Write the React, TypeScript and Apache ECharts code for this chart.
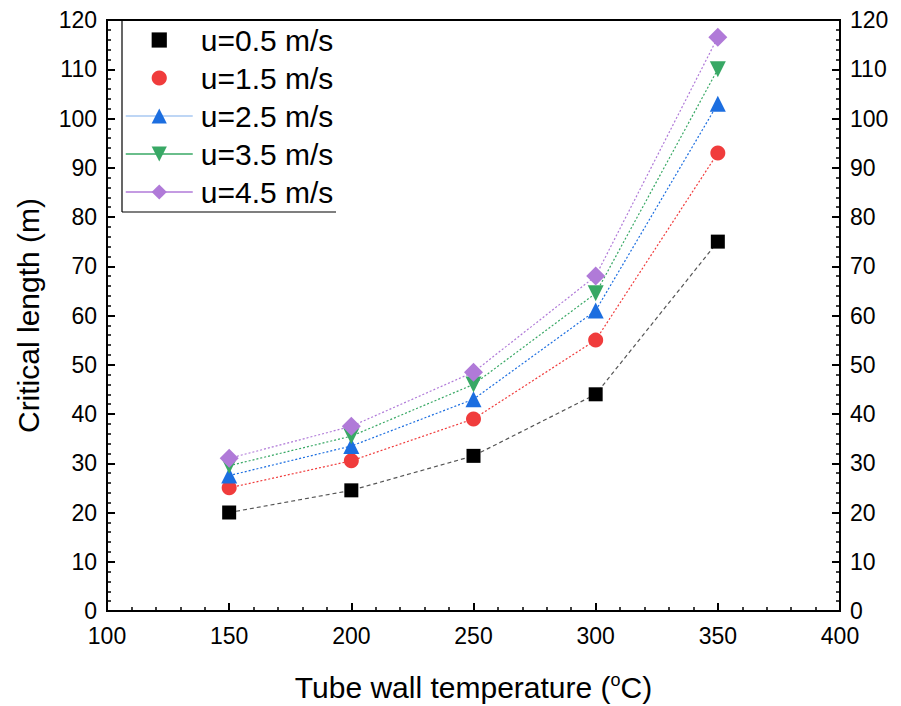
import React, { useEffect, useRef } from "react";
import * as echarts from "echarts";

const temps = [150, 200, 250, 300, 350];
const u05 = [20, 24.5, 31.5, 44, 75];
const u15 = [25, 30.5, 39, 55, 93];
const u25 = [27.5, 33.5, 43, 61, 103];
const u35 = [29.5, 35.5, 46, 64.5, 110];
const u45 = [31, 37.5, 48.5, 68, 116.5];
const seriesNames = ["u=0.5 m/s", "u=1.5 m/s", "u=2.5 m/s", "u=3.5 m/s", "u=4.5 m/s"];

export default function App() {
  const ref = useRef<HTMLDivElement>(null);
  useEffect(() => {
    const chart = echarts.init(ref.current!, undefined, { renderer: "svg" });
    const font = "Liberation Sans, Arial, sans-serif";
    const mk = (
      name: string,
      vals: number[],
      color: string,
      lineColor: string,
      symbol: string,
      size: number,
      lineType: any
    ) => ({
      name,
      type: "line",
      data: temps.map((t, i) => [t, vals[i]]),
      symbol,
      symbolSize: size,
      itemStyle: { color },
      lineStyle: { color: lineColor, width: 1.2, type: lineType },
      z: 3,
    });
    const series = [
      mk(seriesNames[0], u05, "#000000", "#555555", "rect", 14, [4, 3]),
      mk(seriesNames[1], u15, "#f03c3c", "#f03c3c", "circle", 15, [2, 2]),
      mk(seriesNames[2], u25, "#1c6ee0", "#1c6ee0", "triangle", 16, [2, 2]),
      mk(seriesNames[3], u35, "#38a865", "#38a865", "path://M0,0 L10,0 L5,9 Z", 16, [2, 2]),
      mk(seriesNames[4], u45, "#b07ad8", "#b07ad8", "diamond", 19, [2, 2]),
    ];
    const legendLine = ["", "", "#a9c9f2", "#38a865", "#b07ad8"];
    const tickCommon = {
      axisTick: { show: true, inside: true, length: 8, lineStyle: { color: "#000", width: 2 } },
      minorTick: { show: true, splitNumber: 5, length: 4, lineStyle: { color: "#000", width: 1.5 } },
      splitLine: { show: false },
    };
    chart.setOption({
      animation: false,
      backgroundColor: "#ffffff",
      grid: {
        left: 99,
        right: 61,
        top: 12,
        bottom: 95,
        outerBoundsMode: "none",
        containLabel: false,
        show: true,
        borderColor: "#000",
        borderWidth: 2,
      },
      legend: {
        orient: "vertical",
        left: 117,
        top: 17,
        padding: 0,
        itemWidth: 67,
        itemHeight: 19,
        itemGap: 8,
        data: seriesNames.map((n, i) => ({
          name: n,
          lineStyle:
            i < 2
              ? { opacity: 0, width: 0 }
              : { type: "solid", color: legendLine[i], width: 1.5 },
        })),
        textStyle: { fontFamily: font, fontSize: 30, color: "#000", lineHeight: 30, padding: [0, 0, 0, 3] },
      },
      graphic: [
        {
          type: "line",
          shape: { x1: 114, y1: 13, x2: 114, y2: 204 },
          style: { stroke: "#000", lineWidth: 1.2 },
          z: 10,
        },
        {
          type: "line",
          shape: { x1: 114, y1: 204, x2: 328, y2: 204 },
          style: { stroke: "#000", lineWidth: 1.2 },
          z: 10,
        },
      ],
      xAxis: {
        type: "value",
        min: 100,
        max: 400,
        interval: 50,
        name: "Tube wall temperature ({sup|o}C)",
        nameLocation: "middle",
        nameGap: 60,
        nameTextStyle: {
          fontFamily: font,
          fontSize: 30,
          color: "#000",
          rich: {
            sup: { fontFamily: font, fontSize: 18, color: "#000", verticalAlign: "top", padding: [0, 0, 14, 0] },
          },
        },
        axisLine: { show: true, onZero: false, lineStyle: { color: "#000", width: 2 } },
        ...tickCommon,
        axisLabel: { fontFamily: font, fontSize: 23, color: "#000", margin: 13 },
      },
      yAxis: [
        {
          type: "value",
          min: 0,
          max: 120,
          interval: 10,
          name: "Critical length (m)",
          nameLocation: "middle",
          nameGap: 64,
          nameTextStyle: { fontFamily: font, fontSize: 30, color: "#000" },
          axisLine: { show: true, lineStyle: { color: "#000", width: 2 } },
          ...tickCommon,
          axisLabel: { fontFamily: font, fontSize: 23, color: "#000", margin: 10 },
        },
        {
          type: "value",
          position: "right",
          min: 0,
          max: 120,
          interval: 10,
          axisLine: { show: true, lineStyle: { color: "#000", width: 2 } },
          ...tickCommon,
          axisLabel: { fontFamily: font, fontSize: 23, color: "#000", margin: 10 },
        },
      ],
      series,
    });
    return () => chart.dispose();
  }, []);
  return <div ref={ref} style={{ width: 893, height: 698 }} />;
}
